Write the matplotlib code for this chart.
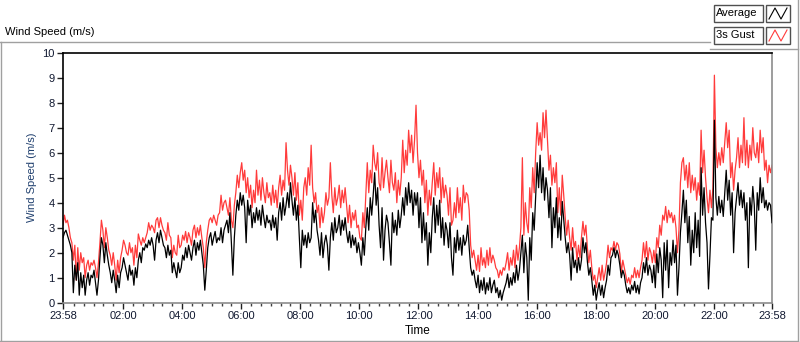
import numpy as np
import matplotlib
matplotlib.use("Agg")
import matplotlib.pyplot as plt
from matplotlib.patches import Rectangle
from matplotlib.lines import Line2D

# ── Data: 3-minute samples from 23:58, one row per hour ─────
average = [
    2.6, 2.8, 2.9, 2.7, 2.5, 2.3, 2.0, 0.4, 1.5, 0.9, 1.6, 0.3, 1.2, 0.6, 1.1, 0.3, 0.9, 1.2, 0.7, 1.1,
    1.0, 1.3, 0.8, 0.3, 0.9, 1.8, 2.6, 2.3, 1.6, 2.4, 1.9, 1.5, 1.2, 0.8, 1.3, 0.9, 0.4, 1.1, 0.6, 1.2,
    1.4, 1.8, 1.5, 1.2, 0.9, 1.5, 1.1, 1.3, 0.7, 1.4, 1.0, 1.7, 2.0, 1.6, 2.2, 2.1, 2.35, 2.2, 2.5, 2.3,
    2.6, 2.3, 1.7, 2.5, 2.8, 2.4, 2.9, 2.6, 2.3, 2.2, 1.8, 2.3, 1.9, 2.1, 1.2, 1.6, 1.3, 1.0, 1.6, 1.2,
    1.4, 1.9, 1.7, 2.2, 1.8, 2.3, 2.0, 1.7, 2.2, 2.5, 1.9, 2.4, 2.1, 2.5, 2.0, 1.5, 0.5, 1.3, 2.2, 2.6,
    2.8, 2.3, 2.6, 2.85, 2.4, 2.6, 2.5, 3.0, 2.4, 2.9, 3.1, 3.3, 2.8, 3.6, 2.4, 1.1, 2.6, 3.5, 4.1, 3.7,
    4.4, 3.9, 4.3, 3.8, 2.4, 4.1, 3.5, 3.9, 3.0, 3.6, 3.2, 3.8, 3.3, 3.7, 3.1, 3.9, 3.4, 3.0, 3.5, 3.2,
    3.3, 2.9, 3.5, 3.0, 3.4, 2.5, 3.6, 4.0, 3.3, 4.2, 3.5, 3.9, 4.4, 3.8, 4.8, 4.1, 3.5, 4.2, 3.3, 3.9,
    2.6, 1.4, 2.9, 2.3, 2.7, 2.2, 2.8, 2.4, 2.6, 4.0, 3.2, 3.7, 2.9, 2.5, 1.9, 2.8, 1.8, 2.4, 2.7, 2.3,
    1.3, 2.6, 3.2, 2.5, 3.4, 2.8, 3.0, 3.5, 2.7, 3.3, 2.9, 3.4, 2.8, 2.4, 2.85, 2.2, 2.7, 2.3, 2.6, 2.0,
    2.4, 2.0, 1.5, 2.6, 1.9, 3.0, 3.8, 2.9, 4.2, 3.5, 4.3, 5.2, 3.9, 4.6, 3.1, 2.2, 3.8, 1.7, 2.9, 3.5,
    3.2, 2.4, 1.5, 3.6, 2.8, 3.3, 2.7, 3.7, 3.0, 3.5, 4.2, 3.5, 4.6, 3.9, 4.8, 4.0, 4.5, 3.5, 4.4, 3.9,
    4.4, 3.0, 4.2, 2.4, 3.6, 2.5, 3.2, 1.5, 2.8, 2.0, 3.4, 4.2, 2.8, 3.9, 3.1, 4.1, 2.6, 3.4, 2.3, 3.2,
    2.9, 2.2, 3.2, 1.8, 1.1, 2.6, 2.0, 2.9, 2.1, 2.6, 1.9, 2.7, 2.3, 2.5, 3.1, 2.2, 1.4, 1.1, 1.3, 0.9,
    0.6, 1.1, 0.4, 0.9, 0.5, 1.0, 0.35, 0.8, 0.5, 1.0, 0.4, 0.7, 0.9, 0.4, 0.6, 0.2, 0.5, 0.1, 0.4, 0.6,
    0.8, 1.15, 0.6, 1.0, 0.7, 1.2, 0.8, 1.5, 0.9, 1.3, 2.0, 2.7, 1.2, 2.4, 1.8, 0.1, 2.6, 1.7, 3.6, 2.9,
    4.3, 5.6, 4.6, 5.9, 4.4, 5.4, 4.1, 5.0, 4.5, 3.4, 4.6, 2.2, 3.8, 3.0, 4.2, 2.6, 3.4, 2.5, 4.05, 3.3,
    2.6, 2.0, 2.4, 1.9, 0.9, 2.2, 1.4, 1.7, 1.2, 1.8, 1.3, 1.7, 2.6, 2.0, 2.4, 1.65, 1.1, 1.4, 0.9, 0.3,
    0.7, 0.1, 0.5, 0.8, 0.3, 0.7, 0.2, 0.6, 0.9, 1.5, 1.1, 1.8, 1.9, 2.2, 1.8, 2.1, 1.9, 1.5, 1.0, 1.3,
    1.1, 0.7, 0.4, 0.6, 0.35, 0.7, 0.5, 0.85, 0.4, 0.7, 0.35, 0.8, 1.0, 1.6, 1.2, 1.8, 1.1, 1.5, 1.3, 0.8,
    1.5, 0.6, 1.95, 1.2, 2.2, 1.7, 0.2, 2.4, 1.3, 2.5, 0.6, 2.0, 1.5, 2.5, 1.6, 2.3, 0.3, 1.4, 2.8, 3.6,
    4.5, 3.2, 4.1, 2.4, 3.45, 1.5, 2.9, 2.0, 3.6, 2.2, 3.3, 1.85, 5.4, 3.5, 4.6, 3.2, 2.4, 0.55, 1.9, 3.4,
    3.3, 7.3, 4.2, 3.5, 4.25, 3.6, 4.1, 3.45, 4.4, 5.3, 4.1, 4.9, 3.5, 4.4, 2.0, 3.6, 4.2, 4.8, 3.9, 4.5,
    3.8, 4.4, 3.3, 4.0, 1.4, 4.2, 3.5, 4.65, 3.9, 2.1, 4.4, 3.7, 5.0, 4.0, 4.6, 3.8, 4.1, 3.7, 4.0, 3.9,
    3.2,
]

gust = [
    3.1, 3.5, 3.2, 3.3, 3.0, 2.6, 2.4, 1.7, 2.3, 0.9, 2.2, 1.3, 2.0, 1.6, 1.8, 1.0, 1.5, 1.7, 1.3, 1.6,
    1.5, 1.7, 1.4, 1.0, 1.6, 2.4, 3.3, 2.9, 2.2, 3.0, 2.6, 2.1, 1.9, 1.5, 2.0, 1.5, 0.9, 1.7, 1.2, 1.8,
    2.1, 2.5, 2.3, 2.0, 1.9, 2.4, 2.0, 2.2, 1.5, 2.3, 1.8, 2.75, 2.5, 2.3, 2.6, 2.4, 2.6, 2.8, 3.2, 2.9,
    3.1, 3.0, 2.8, 3.3, 3.4, 3.0, 3.4, 3.1, 2.9, 2.8, 2.5, 3.2, 2.7, 2.6, 1.8, 2.3, 2.0, 1.9, 2.7, 2.2,
    2.3, 2.7, 2.5, 2.85, 2.4, 2.8, 2.6, 2.3, 2.9, 3.1, 2.6, 3.0, 2.7, 3.1, 2.6, 2.2, 1.4, 2.4, 2.9, 3.3,
    3.4, 3.2, 3.5, 3.3, 3.1, 3.5, 3.6, 4.3, 3.7, 4.0, 4.1, 3.8, 3.5, 4.2, 3.3, 3.0, 3.9, 4.4, 5.1, 4.6,
    5.2, 5.6, 4.9, 5.3, 4.4, 5.0, 4.2, 4.7, 3.8, 4.5, 4.0, 5.3, 4.3, 4.9, 4.1, 5.0, 4.4, 4.0, 4.8, 4.2,
    4.4, 3.9, 4.7, 4.0, 4.5, 3.8, 4.6, 5.1, 4.3, 4.9, 4.5, 6.4, 5.3, 4.7, 5.5, 5.0, 4.3, 5.2, 4.1, 4.8,
    3.5, 4.1, 3.3, 4.6, 5.0, 4.3, 5.4, 4.7, 6.3, 4.6, 4.0, 4.4, 3.6, 3.9, 3.0, 3.8, 3.2, 3.6, 4.4, 3.9,
    4.2, 5.6, 4.3, 3.6, 4.6, 3.9, 4.2, 4.7, 3.8, 4.5, 4.0, 4.6, 3.9, 3.2, 3.9, 3.0, 3.6, 3.3, 3.7, 3.0,
    3.1, 2.6, 2.5, 3.6, 3.0, 4.3, 5.6, 4.4, 5.3, 4.8, 6.3, 5.6, 5.3, 6.0, 4.8, 4.5, 5.8, 4.6, 5.2, 5.7,
    5.0, 4.4, 5.7, 4.8, 4.5, 5.2, 4.0, 4.9, 4.3, 5.0, 6.5, 5.2, 6.1, 5.5, 6.9, 6.0, 6.7, 5.6, 6.5, 7.9,
    6.0, 5.0, 5.7, 4.7, 5.3, 4.0, 4.9, 3.5, 4.5, 3.9, 4.8, 5.6, 4.3, 5.2, 4.6, 5.4, 4.0, 5.0, 4.2, 4.7,
    4.3, 3.5, 4.6, 3.1, 3.3, 4.0, 3.4, 4.6, 3.6, 4.2, 3.3, 4.7, 4.0, 4.4, 4.3, 3.7, 2.3, 1.8, 2.1, 1.7,
    1.3, 1.9, 1.25, 2.2, 1.5, 1.8, 1.4, 2.1, 1.5, 2.2, 1.6, 1.9, 1.7, 1.4, 1.3, 1.0, 1.3, 1.1, 1.4, 1.3,
    1.6, 2.0, 1.3, 1.8, 1.5, 2.1, 1.4, 2.3, 1.7, 2.2, 3.0, 5.8, 2.7, 4.0, 3.2, 2.8, 4.6, 3.8, 5.4, 4.4,
    6.0, 7.2, 6.3, 6.8, 6.1, 7.6, 6.6, 7.7, 6.5, 5.3, 5.9, 4.7, 5.4, 4.8, 5.6, 3.6, 4.6, 3.5, 5.1, 4.3,
    3.4, 2.7, 3.3, 2.6, 2.1, 3.0, 2.2, 2.45, 1.7, 2.3, 1.8, 2.6, 3.25, 2.7, 3.1, 2.2, 1.6, 2.1, 1.4, 0.9,
    1.1, 0.6, 1.0, 1.4, 0.9, 1.5, 0.9, 1.2, 1.6, 2.3, 1.8, 2.2, 2.1, 2.45, 2.1, 2.4, 2.3, 1.95, 1.2, 1.7,
    1.4, 1.1, 0.8, 1.0, 0.74, 1.1, 1.0, 1.4, 1.0, 1.3, 1.0, 1.4, 1.7, 2.4, 1.8, 2.45, 1.7, 2.2, 2.0, 1.6,
    2.1, 1.6, 2.6, 2.2, 3.1, 2.7, 3.5, 3.3, 3.85, 3.2, 3.7, 3.4, 3.6, 3.2, 3.5, 3.0, 2.0, 2.9, 4.8, 5.6,
    5.8, 4.9, 5.5, 4.6, 5.6, 4.4, 5.1, 4.5, 5.0, 4.1, 4.8, 4.3, 6.9, 5.2, 6.1, 5.0, 4.2, 3.6, 4.5, 3.8,
    4.6, 9.1, 6.2, 5.4, 6.0, 5.5, 6.2, 5.6, 6.4, 7.2, 6.2, 6.9, 5.0, 5.6, 4.5, 5.3, 5.8, 6.6, 5.4, 6.3,
    5.6, 7.4, 5.5, 6.5, 5.4, 6.3, 5.7, 7.0, 6.0, 5.8, 6.4, 5.6, 6.9, 6.0, 6.6, 5.3, 5.7, 4.8, 5.5, 5.2,
    5.5,
]

tick_labels = ["23:58", "02:00", "04:00", "06:00", "08:00", "10:00", "12:00",
               "14:00", "16:00", "18:00", "20:00", "22:00", "23:58"]

# hours since 23:58
t = np.arange(len(average)) * 3 / 60

W, H = 800, 342
def fx(px):
    return px / W
def fy(py):
    return 1 - py / H

font = "Liberation Sans"
txt_col = "#000000"
frame_col = "#a0a0a0"

fig = plt.figure(figsize=(8, 3.42), dpi=100)
fig.patch.set_facecolor("white")

ax = fig.add_axes([fx(63), fy(302.7), fx(772) - fx(63), fy(52.7) - fy(302.7)])
ax.plot(t, gust, color="#ff3b3b", lw=0.9, zorder=2)
ax.plot(t, average, color="black", lw=0.9, zorder=3)

ax.set_xlim(0, 24)
ax.set_ylim(0, 10)

major = [0] + [2 * k + 2 / 60 for k in range(1, 12)] + [24]
ax.set_xticks(major)
ax.set_xticklabels(tick_labels, fontsize=8, family=font)
minor = [2 / 60 + k / 3 for k in range(1, 72) if k % 6 != 0]
ax.set_xticks(minor, minor=True)
ax.set_yticks(range(0, 11))
ax.set_yticklabels([str(v) for v in range(0, 11)], fontsize=8, family=font)
ax.tick_params(axis="both", which="major", length=4, width=1, color="#202020",
               labelcolor="#101830", pad=2)
ax.tick_params(axis="x", which="minor", length=2.5, width=1, color="#404040")

for side in ["left", "top"]:
    ax.spines[side].set_color("black")
    ax.spines[side].set_linewidth(1.2)
for side in ["right", "bottom"]:
    ax.spines[side].set_color("#8c8c8c")
    ax.spines[side].set_linewidth(1.2)

ax.set_ylabel("Wind Speed (m/s)", fontsize=8, family=font, color="#1f3f6e", labelpad=4)
ax.set_xlabel("Time", fontsize=8.5, family=font, color=txt_col, labelpad=3)

# ── Panel frame and caption ─────────────────────────────────
fig.add_artist(Line2D([fx(0.5), fx(0.5)], [fy(42), fy(340.5)], color=frame_col, lw=1))
fig.add_artist(Line2D([fx(0), fx(710)], [fy(42), fy(42)], color=frame_col, lw=1))
fig.add_artist(Line2D([fx(0), fx(798)], [fy(340.5), fy(340.5)], color=frame_col, lw=1))
fig.add_artist(Line2D([fx(797.5), fx(797.5)], [fy(0), fy(340.5)], color=frame_col, lw=1))
fig.add_artist(Line2D([fx(710), fx(798)], [fy(48.5), fy(48.5)], color=frame_col, lw=1))
fig.text(fx(5), fy(32), "Wind Speed (m/s)", fontsize=8, family=font,
         color=txt_col, ha="left", va="center")

# ── Legend boxes ────────────────────────────────────────────
rows = [("Average", "black", 5), ("3s Gust", "#ff3b3b", 27)]
for name, col, top in rows:
    fig.add_artist(Rectangle((fx(714), fy(top + 17)), fx(763) - fx(714),
                             fy(top) - fy(top + 17), fill=False,
                             edgecolor="#505050", lw=1))
    fig.text(fx(716), fy(top + 8.5), name, fontsize=8, family=font,
             color=txt_col, ha="left", va="center")
    fig.add_artist(Rectangle((fx(766), fy(top + 17)), fx(790) - fx(766),
                             fy(top) - fy(top + 17), fill=False,
                             edgecolor="#505050", lw=1))
    zx = [769, 775, 781, 787]
    zy = [top + 14, top + 3, top + 14, top + 3]
    fig.add_artist(Line2D([fx(v) for v in zx], [fy(v) for v in zy], color=col, lw=0.8))

fig.savefig("out.png", dpi=100)
